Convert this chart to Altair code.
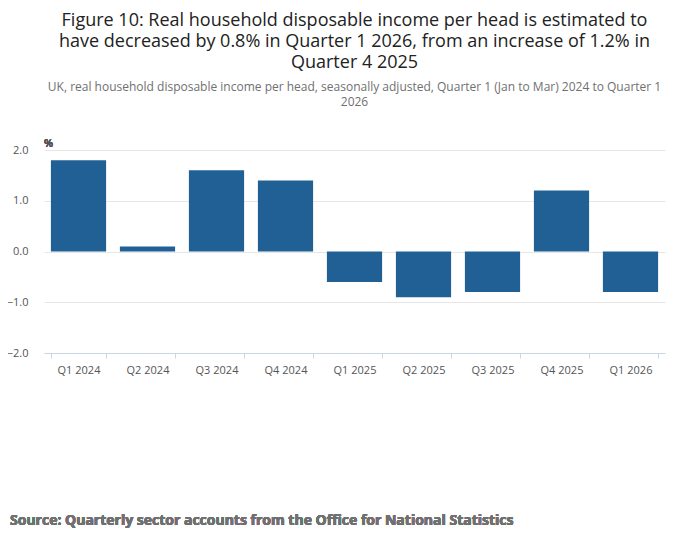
import altair as alt
import pandas as pd

quarters = ["Q1 2024", "Q2 2024", "Q3 2024", "Q4 2024", "Q1 2025",
            "Q2 2025", "Q3 2025", "Q4 2025", "Q1 2026"]
values = [1.8, 0.1, 1.6, 1.4, -0.6, -0.9, -0.8, 1.2, -0.8]
y_ticks = [-2, -1, 0, 1, 2]

df = pd.DataFrame({"quarter": quarters, "value": values})
font = "Open Sans"
W, H = 621, 203

bars = alt.Chart(df).mark_bar(color="#206095").encode(
    x=alt.X("quarter:N", sort=quarters, title=None,
            scale=alt.Scale(paddingInner=0.2, paddingOuter=0.1),
            axis=alt.Axis(labelAngle=0, tickBand="extent", domainColor="#c9d6e3",
                          tickColor="#c9d6e3", labelColor="#555", labelFontSize=11,
                          labelFont=font, labelPadding=6)),
    y=alt.Y("value:Q", title=None,
            scale=alt.Scale(domain=[-2, 2]),
            axis=alt.Axis(values=y_ticks, format=".1f", domain=False, ticks=False,
                          gridColor="#e6e6e6", labelColor="#555", labelFontSize=11,
                          labelFont=font, labelPadding=16)),
)

pct = alt.Chart(df).mark_text(align="left", font=font, fontSize=11,
                              fontWeight="normal", color="#555").encode(
    x=alt.value(0), y=alt.value(-6), text=alt.value("%"))

source = alt.Chart(df).mark_text(align="left", baseline="middle", font=font,
                                 fontSize=14, fontWeight="bold", color="#707070").encode(
    x=alt.value(-34), y=alt.value(371),
    text=alt.value("Source: Quarterly sector accounts from the Office for National Statistics"))

chart = alt.layer(bars, pct, source).properties(
    width=W, height=H,
    autosize=alt.AutoSizeParams(type="none"),
    padding={"left": 36, "top": 142, "right": 27, "bottom": 188},
    title=alt.Title(
        ["Figure 10: Real household disposable income per head is estimated to",
         "have decreased by 0.8% in Quarter 1 2026, from an increase of 1.2% in",
         "Quarter 4 2025"],
        subtitle=["UK, real household disposable income per head, seasonally adjusted, Quarter 1 (Jan to Mar) 2024 to Quarter 1",
                  "2026"],
        font=font, fontSize=18, fontWeight="normal", color="#222", lineHeight=21,
        subtitleFont=font, subtitleFontSize=12, subtitleColor="#707070",
        subtitleLineHeight=15, subtitlePadding=10, anchor="middle", offset=30),
).configure_view(stroke=None)

chart.save("out.html", embed_options={"renderer": "svg", "actions": False})
